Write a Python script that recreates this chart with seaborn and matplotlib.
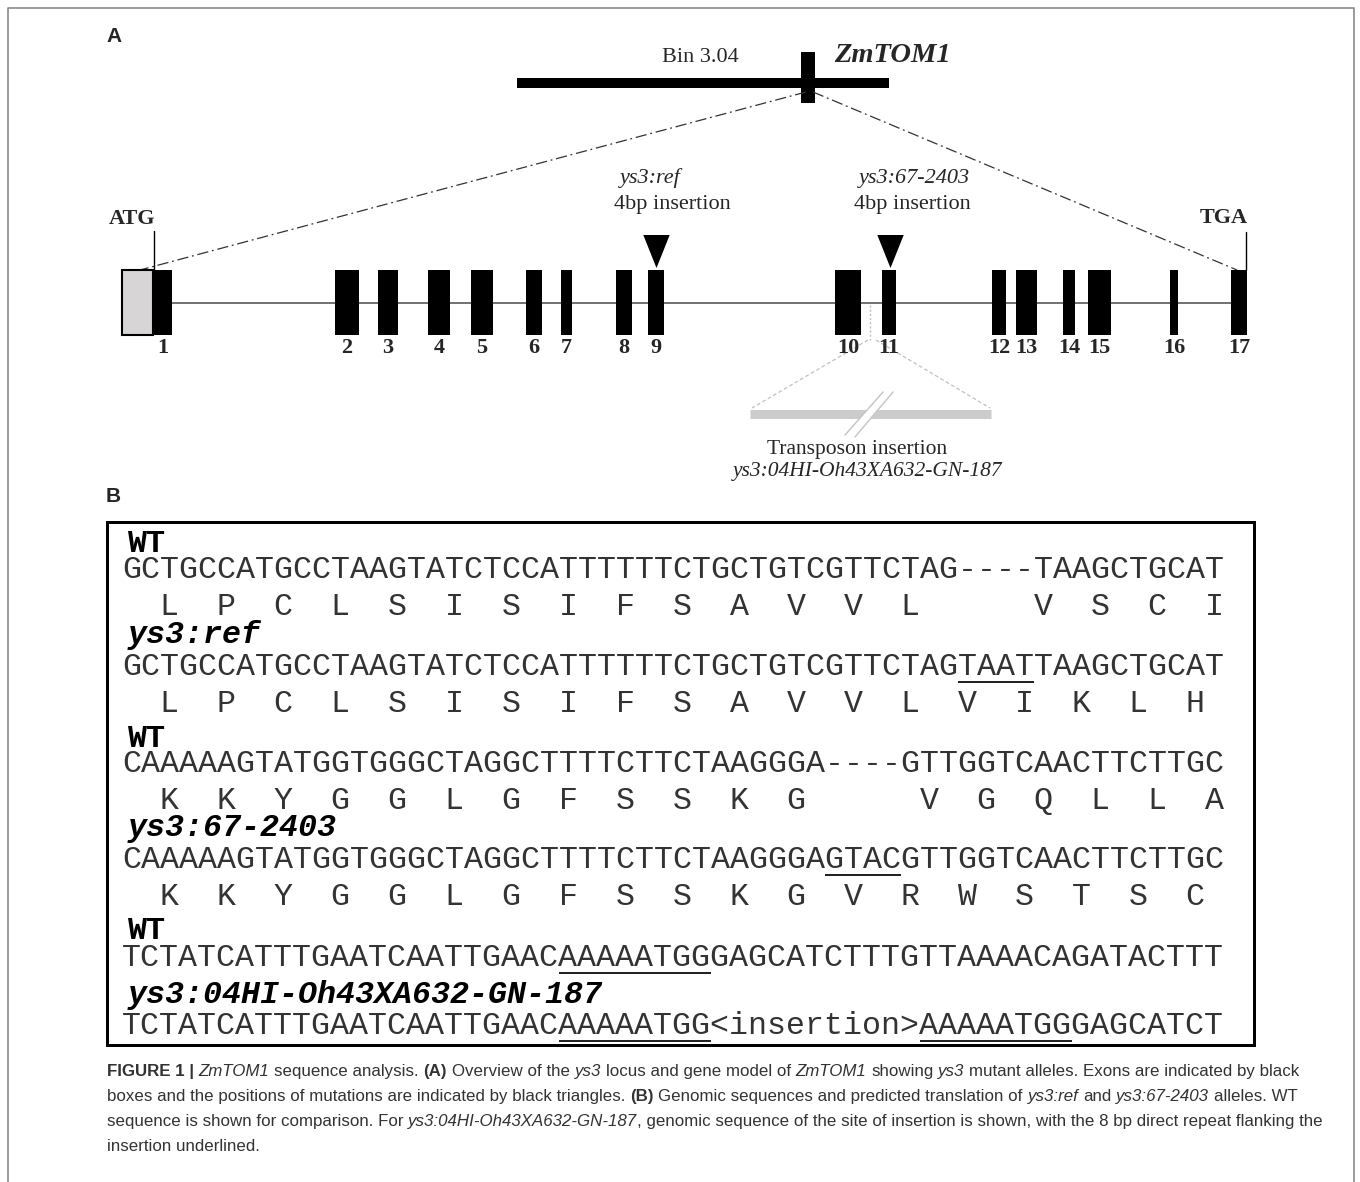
#!/usr/bin/env python
# -*- coding: utf-8 -*-

import matplotlib
matplotlib.use("Agg")
import matplotlib.pyplot as plt
from matplotlib.patches import Rectangle, Polygon
import seaborn as sns
import pandas as pd
import numpy as np

# ---------------- data ----------------
# gene model, exon extents along the drawing (px)
exon_start = [153, 335, 378, 428, 471, 526, 561, 616, 648, 835, 882, 992, 1016, 1063, 1088, 1170, 1231]
exon_end = [172, 359, 398, 450, 493, 542, 572, 632, 664, 861, 896, 1006, 1037, 1075, 1111, 1178, 1247]
exon_names = [str(i) for i in range(1, 18)]
utr5 = [122, 153]

# chromosome bin and locus
chrom_span = [517, 889]
locus_span = [801, 815]
bin_name = "Bin 3.04"
gene_name = "ZmTOM1"

# mutations (triangles)
mut_x = [656, 890]
mut_names = ["ys3:ref", "ys3:67-2403"]
mut_kind = ["4bp insertion", "4bp insertion"]

# transposon
tn_span = [750, 991]
tn_site = 870
tn_title = "Transposon insertion"
tn_name = "ys3:04HI-Oh43XA632-GN-187"

# sequences (panel B)
seq_labels = ["WT", "ys3:ref", "WT", "ys3:67-2403", "WT", "ys3:04HI-Oh43XA632-GN-187"]
seq_label_italic = [False, True, False, True, False, True]
seq_rows = [
    "GCTGCCATGCCTAAGTATCTCCATTTTTTCTGCTGTCGTTCTAG----TAAGCTGCAT",
    "GCTGCCATGCCTAAGTATCTCCATTTTTTCTGCTGTCGTTCTAGTAATTAAGCTGCAT",
    "CAAAAAGTATGGTGGGCTAGGCTTTTCTTCTAAGGGA----GTTGGTCAACTTCTTGC",
    "CAAAAAGTATGGTGGGCTAGGCTTTTCTTCTAAGGGAGTACGTTGGTCAACTTCTTGC",
    "TCTATCATTTGAATCAATTGAACAAAAATGGGAGCATCTTTGTTAAAACAGATACTTT",
    "TCTATCATTTGAATCAATTGAACAAAAATGG<insertion>AAAAATGGGAGCATCT",
]
aa_rows = [
    "  L  P  C  L  S  I  S  I  F  S  A  V  V  L      V  S  C  I",
    "  L  P  C  L  S  I  S  I  F  S  A  V  V  L  V  I  K  L  H",
    "  K  K  Y  G  G  L  G  F  S  S  K  G      V  G  Q  L  L  A",
    "  K  K  Y  G  G  L  G  F  S  S  K  G  V  R  W  S  T  S  C",
    None,
    None,
]
# underlined stretches: (row, first char, last char + 1)
underlines = [(1, 44, 48), (3, 37, 41), (4, 23, 31), (5, 23, 31), (5, 42, 50)]

caption = [
    [("FIGURE 1 | ", "b"), ("ZmTOM1", "i"), (" sequence analysis. ", "n"), ("(A)", "b"),
     (" Overview of the ", "n"), ("ys3", "i"), (" locus and gene model of ", "n"), ("ZmTOM1", "i"),
     (" showing ", "n"), ("ys3", "i"), (" mutant alleles. Exons are indicated by black", "n")],
    [("boxes and the positions of mutations are indicated by black triangles. ", "n"), ("(B)", "b"),
     (" Genomic sequences and predicted translation of ", "n"), ("ys3:ref", "i"), (" and ", "n"),
     ("ys3:67-2403", "i"), (" alleles. WT", "n")],
    [("sequence is shown for comparison. For ", "n"), ("ys3:04HI-Oh43XA632-GN-187", "i"),
     (", genomic sequence of the site of insertion is shown, with the 8 bp direct repeat flanking the", "n")],
    [("insertion underlined.", "n")],
]

# ---------------- figure ----------------
sns.set_theme(style="white")
plt.rcParams['font.family'] = ['Liberation Serif', 'DejaVu Serif']

W, H = 1360, 1182
fig = plt.figure(figsize=(W / 100, H / 100), dpi=100)
ax = fig.add_axes([0, 0, 1, 1])
ax.set_xlim(0, W)
ax.set_ylim(H, 0)
ax.axis("off")
PT = 72 / 100.  # px -> pt

# outer frame
ax.plot([8, 8, 1354, 1354], [H, 8, 8, H], color="#8a8a8a", lw=1.2)

sans = "Liberation Sans"
mono = "Liberation Mono"
ax.text(106, 42, "A", family=sans, weight="bold", fontsize=15, va="baseline")
ax.text(106, 502, "B", family=sans, weight="bold", fontsize=15, va="baseline")

# chromosome + locus
ax.plot(chrom_span, [83, 83], color="black", lw=10 * PT, solid_capstyle="butt")
ax.add_patch(Rectangle((locus_span[0], 52), locus_span[1] - locus_span[0], 51, color="black", lw=0))
ax.text(700, 62, bin_name, fontsize=16, ha="center", va="baseline")
ax.text(834, 62, gene_name, fontsize=20.5, weight="bold", style="italic", ha="left", va="baseline")

# zoom lines
zoom = pd.DataFrame({"x": [locus_span[0] + 5, 140], "y": [92, 270]})
ax.plot(zoom.x, zoom.y, color="#333", lw=0.9, ls=(0, (9, 3, 1.5, 3)))
zoom = pd.DataFrame({"x": [locus_span[1] - 2, 1237], "y": [92, 270]})
ax.plot(zoom.x, zoom.y, color="#333", lw=0.9, ls=(0, (9, 3, 1.5, 3)))

# gene model
ytop, ybot = 270, 335
ymid = 302.5
ax.plot([exon_end[0], exon_start[-1]], [ymid, ymid], color="#666", lw=1.3, zorder=1)
ax.add_patch(Rectangle((utr5[0], ytop), utr5[1] - utr5[0], ybot - ytop,
                       facecolor="#d8d5d7", edgecolor="black", lw=1.5, zorder=2))
es = np.array(exon_start)
ee = np.array(exon_end)
ax.bar((es + ee) / 2, ybot - ytop, width=ee - es, bottom=ytop, color="black", lw=0, zorder=3)
for s, e, n in zip(es, ee, exon_names):
    ax.text((s + e) / 2, 353, n, fontsize=16, weight="bold", ha="center", va="baseline")

ax.plot([154, 154], [231, ytop], color="black", lw=1)
ax.text(132, 224, "ATG", fontsize=16, weight="bold", ha="center", va="baseline")
ax.plot([1246, 1246], [232, ytop], color="black", lw=1)
ax.text(1224, 223, "TGA", fontsize=16, weight="bold", ha="center", va="baseline")

# mutation triangles
tri = [(-0.4, 0.5), (0.4, 0.5), (0.0, -0.5)]
mdf = pd.DataFrame({"x": mut_x, "y": [250.5] * len(mut_x)})
sns.scatterplot(data=mdf, x="x", y="y", marker=tri, s=(33 * PT) ** 2, color="black",
                linewidth=0, ax=ax, legend=False, zorder=4)
name_x = [650, 914]
kind_x = [672, 912]
for nx, kx, nm, kd in zip(name_x, kind_x, mut_names, mut_kind):
    ax.text(nx, 183, nm, fontsize=16, style="italic", ha="center", va="baseline")
    ax.text(kx, 209, kd, fontsize=16, ha="center", va="baseline")

# transposon insertion
ax.plot([tn_site, tn_site], [305, 340], color="#c0c0c0", lw=1, ls=(0, (1.5, 1.5)))
ax.plot([tn_site - 2, tn_span[0] + 2], [340, 408], color="#c0c0c0", lw=0.9, ls=(0, (3, 2)))
ax.plot([tn_site + 6, tn_span[1] - 1], [340, 408], color="#c0c0c0", lw=0.9, ls=(0, (3, 2)))
ax.plot(tn_span, [413.5, 413.5], color="#cccccc", lw=9 * PT, solid_capstyle="butt")
ax.add_patch(Polygon([(883, 392), (893, 392), (855, 437), (845, 435)], closed=True,
                     facecolor="white", edgecolor="none", zorder=5))
ax.plot([883, 845], [392, 435], color="#c4c4c4", lw=1, zorder=6)
ax.plot([893, 855], [392, 437], color="#c4c4c4", lw=1, zorder=6)
ax.text(857, 454, tn_title, fontsize=15.5, ha="center", va="baseline")
ax.text(868, 476, tn_name, fontsize=15.5, style="italic", ha="center", va="baseline")

# ---------------- panel B ----------------
ax.add_patch(Rectangle((107, 522), 1254 - 107, 1045 - 522, facecolor="none",
                       edgecolor="black", lw=3 * PT))
fs_seq = 22.8
fs_lab = 22.8
cw = 0.6 * fs_seq / PT
x0 = 122
label_base = [552, 643, 747, 836, 939, 1003]
seq_base = [578, 675, 772, 868, 966, 1034]
aa_base = [615, 712, 809, 905, None, None]
for i, (lab, it, seq, aa) in enumerate(zip(seq_labels, seq_label_italic, seq_rows, aa_rows)):
    ax.text(128, label_base[i], lab, family=mono, fontsize=fs_lab, weight="bold",
            style="italic" if it else "normal", ha="left", va="baseline", color="black")
    ax.text(x0, seq_base[i], seq, family=mono, fontsize=fs_seq, ha="left", va="baseline", color="#333333")
    if aa is not None:
        ax.text(x0, aa_base[i], aa, family=mono, fontsize=fs_seq, ha="left", va="baseline", color="#333333")
for r, a, b in underlines:
    ax.plot([x0 + a * cw, x0 + b * cw], [seq_base[r] + 7, seq_base[r] + 7], color="#222", lw=2 * PT,
            solid_capstyle="butt")

# ---------------- caption ----------------
renderer = fig.canvas.get_renderer()
cap_kw = {"n": {}, "b": {"weight": "bold"}, "i": {"style": "italic"}}


def text_width(s, fs, st):
    t = ax.text(0, 0, "|" + s + "|", family=sans, fontsize=fs, **cap_kw[st])
    w1 = t.get_window_extent(renderer).width
    t.set_text("||")
    w2 = t.get_window_extent(renderer).width
    t.remove()
    return w1 - w2


fs_cap = 11
w_line = sum(text_width(s, fs_cap, st) for s, st in caption[0])
fs_cap = fs_cap * (1296 - 107) / w_line

cap_base = [1076, 1101, 1126, 1151]
for line, yb in zip(caption, cap_base):
    x = 107
    for s, st in line:
        lead = len(s) - len(s.lstrip(" "))
        core = s.strip(" ")
        if core:
            xs = x + (text_width(" " * lead, fs_cap, st) if lead else 0)
            ax.text(xs, yb, core, family=sans, fontsize=fs_cap, color="#333333",
                    ha="left", va="baseline", **cap_kw[st])
        x += text_width(s, fs_cap, st)

ax.set_xlim(0, W)
ax.set_ylim(H, 0)
fig.savefig("out.png", dpi=100)
